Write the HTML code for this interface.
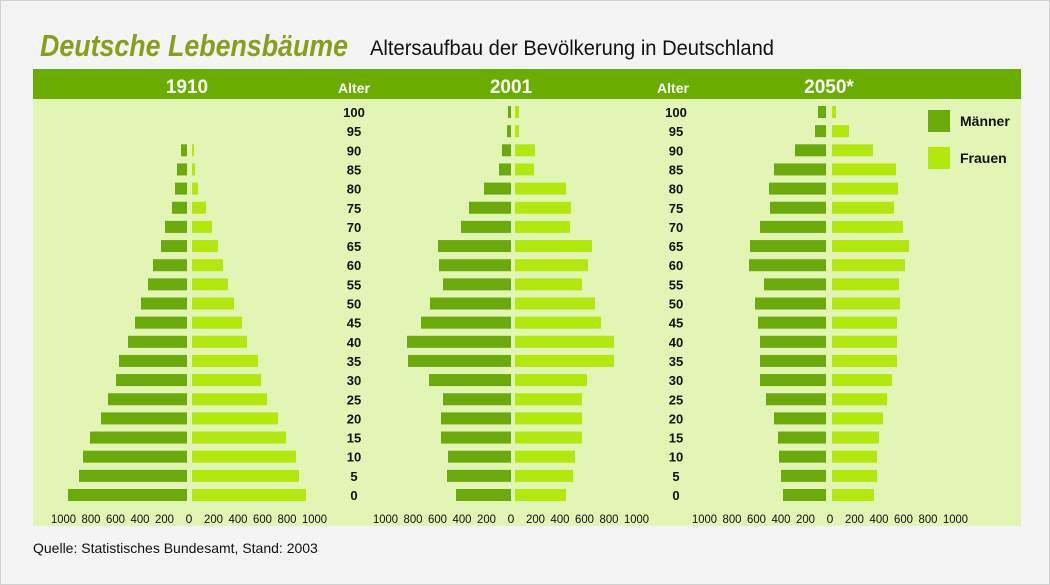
<!DOCTYPE html>
<html><head><meta charset="utf-8"><style>
body{margin:0;background:#fff}
svg{display:block}
</style></head><body>
<svg width="1050" height="585" xmlns="http://www.w3.org/2000/svg" font-family="Liberation Sans, sans-serif">
<rect x="0.5" y="0.5" width="1049" height="584" fill="#f4f4f4" stroke="#d0d0d0"/>
<text x="40" y="56" font-size="31" font-weight="bold" font-style="italic" fill="#8a9e1e" textLength="308" lengthAdjust="spacingAndGlyphs">Deutsche Lebensbäume</text>
<text x="370" y="55" font-size="21" fill="#111" textLength="404" lengthAdjust="spacingAndGlyphs">Altersaufbau der Bevölkerung in Deutschland</text>
<rect x="33" y="69" width="988" height="30" fill="#6aad00"/>
<rect x="33" y="99" width="988" height="427" fill="#e2f5b4"/>
<g fill="#fff" font-weight="bold" text-anchor="middle">
<text x="187" y="93" font-size="19">1910</text>
<text x="511" y="93" font-size="19">2001</text>
<text x="829" y="93" font-size="19">2050*</text>
<text x="354" y="93" font-size="14">Alter</text>
<text x="673" y="93" font-size="14">Alter</text>
</g>
<g id="bars"></g>
<g font-size="13" font-weight="bold" text-anchor="middle" fill="#111" id="ages"></g>
<g font-size="12" fill="#111" text-anchor="middle" id="ticks"></g>
<rect x="928" y="110" width="22" height="22" fill="#6aaa0a"/>
<rect x="928" y="147" width="22" height="22" fill="#b2e80e"/>
<text x="960" y="126" font-size="14" font-weight="bold" fill="#111">Männer</text>
<text x="960" y="163" font-size="14" font-weight="bold" fill="#111">Frauen</text>
<text x="33" y="553" font-size="14" fill="#111">Quelle: Statistisches Bundesamt, Stand: 2003</text>
</svg>
<script>
var NS="http://www.w3.org/2000/svg";
function el(p,t,a,txt){var e=document.createElementNS(NS,t);for(var k in a)e.setAttribute(k,a[k]);if(txt!=null)e.textContent=txt;document.getElementById(p).appendChild(e);}
var d={
a:{c:[187,192],v:[null,null,[181,194],[177,195],[175,198],[172,206],[165,212],[161,218],[153,223],[148,228],[141,234],[135,242],[128,247],[119,258],[116,261],[108,267],[101,278],[90,286],[83,296],[79,299],[68,306]]},
b:{c:[511,515],v:[[508,519],[507,519],[502,535],[499,534],[484,566],[469,571],[461,570],[438,592],[439,588],[443,582],[430,595],[421,601],[407,614],[408,614],[429,587],[443,582],[441,582],[441,582],[448,575],[447,573],[456,566]]},
c:{c:[826,832],v:[[818,836],[815,849],[795,873],[774,896],[769,898],[770,894],[760,903],[750,909],[749,905],[764,899],[755,900],[758,897],[760,897],[760,897],[760,892],[766,887],[774,883],[778,879],[779,877],[781,877],[783,874]]}};
for(var k in d){var g=d[k];g.v.forEach(function(r,i){if(!r)return;var y=112+i*19.15-6;
el("bars","rect",{x:r[0],y:y,width:g.c[0]-r[0],height:12,fill:"#6aaa0a"});
el("bars","rect",{x:g.c[1],y:y,width:r[1]-g.c[1],height:12,fill:"#b2e80e"});});}
for(var i=0;i<=20;i++){var age=100-i*5,y=112+i*19.15+5;el("ages","text",{x:354,y:y},age);el("ages","text",{x:676,y:y},age);}
[189,511,830].forEach(function(c){
[1000,800,600,400,200,0].forEach(function(v){var dx=v/200*24.5+(v==1000?3:0);
var a={x:c-dx,y:523};if(v==1000){a.textLength=25;a.lengthAdjust="spacingAndGlyphs";}else if(v){a.textLength=19;a.lengthAdjust="spacingAndGlyphs";}
el("ticks","text",a,v);
if(v){var b={x:c+dx,y:523};if(v==1000){b.textLength=25;b.lengthAdjust="spacingAndGlyphs";}else{b.textLength=19;b.lengthAdjust="spacingAndGlyphs";}el("ticks","text",b,v);}});});
</script>
</body></html>
